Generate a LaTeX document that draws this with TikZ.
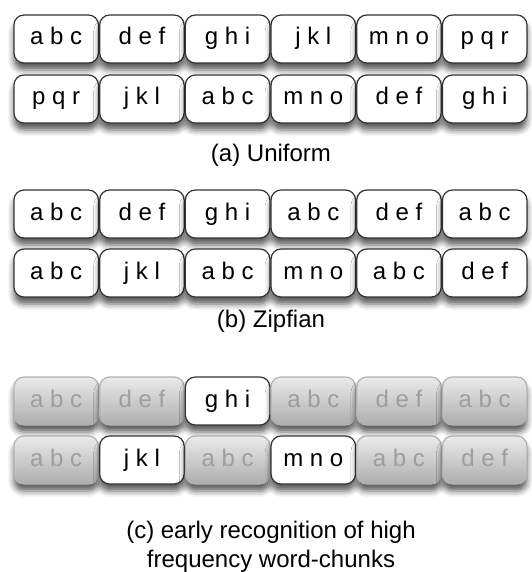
\documentclass[tikz,border=0pt]{standalone}
\usepackage{fontspec}
\setmainfont{Liberation Sans}
\usetikzlibrary{positioning,shadows.blur}

\begin{document}
\begin{tikzpicture}[
    x=1pt, y=-1pt,
    font=\fontsize{24}{28}\selectfont,
    chunk/.style={draw=black!80, rounded corners=10pt, fill=white, minimum width=84.5pt, minimum height=48pt, inner sep=0pt, text height=17pt, text depth=5pt, line width=1.2pt, blur shadow={shadow xshift=0pt, shadow yshift=-7pt, shadow blur radius=6pt, shadow opacity=65}},
    dim/.style={chunk, draw=black!30, top color=black!8, bottom color=black!32, text=black!38},
    hit/.style={chunk},
    caption/.style={font=\fontsize{24}{29}\selectfont, align=center}
]
\useasboundingbox (0,0) rectangle (531,572);

% (a) uniform
\foreach \w [count=\i] in {a b c, d e f, g h i, j k l, m n o, p q r}
  \node[chunk] (ua\i) at ({56.2+85.7*(\i-1)}, 39) {\w};
\foreach \w [count=\i] in {p q r, j k l, a b c, m n o, d e f, g h i}
  \node[chunk] (ub\i) at ({56.2+85.7*(\i-1)}, 99) {\w};
\node[caption] (capa) at (271, 155) {(a) Uniform};

% (b) zipfian
\foreach \w [count=\i] in {a b c, d e f, g h i, a b c, d e f, a b c}
  \node[chunk] (za\i) at ({56.2+85.7*(\i-1)}, 214) {\w};
\foreach \w [count=\i] in {a b c, j k l, a b c, m n o, a b c, d e f}
  \node[chunk] (zb\i) at ({56.2+85.7*(\i-1)}, 273) {\w};
\node[caption] (capb) at (271, 321) {(b) Zipfian};

% (c) early recognition
\foreach \w/\s [count=\i] in {a b c/dim, d e f/dim, g h i/hit, a b c/dim, d e f/dim, a b c/dim}
  \node[\s] (ea\i) at ({56.2+85.7*(\i-1)}, 401) {\w};
\foreach \w/\s [count=\i] in {a b c/dim, j k l/hit, a b c/dim, m n o/hit, a b c/dim, d e f/dim}
  \node[\s] (eb\i) at ({56.2+85.7*(\i-1)}, 460) {\w};
\node[caption] (capc) at (271, 547) {(c) early recognition of high\\frequency word-chunks};
\end{tikzpicture}
\end{document}
